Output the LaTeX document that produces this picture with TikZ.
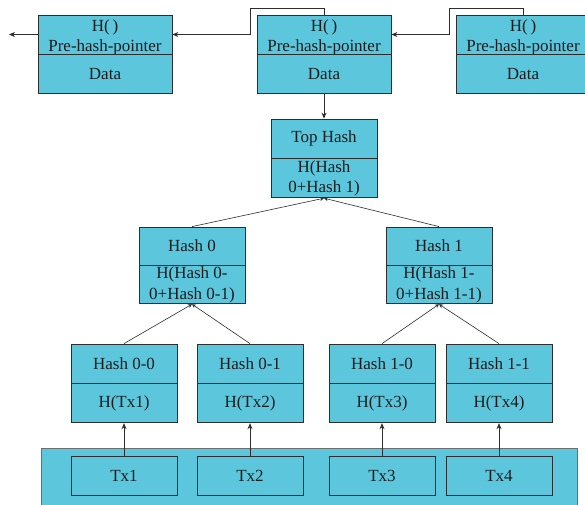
\documentclass[tikz,border=0pt]{standalone}
\usepackage{fontspec}
\setmainfont{Liberation Serif}
\usepackage{tikz}
\usetikzlibrary{positioning}
\usetikzlibrary{calc}
\usetikzlibrary{arrows.meta}
\definecolor{hashblue}{RGB}{91,198,220}
\definecolor{linegray}{RGB}{45,45,45}
\definecolor{poolgray}{RGB}{110,110,110}
\definecolor{txtgray}{RGB}{30,28,28}

\tikzset{
    cell/.style={draw=linegray,fill=hashblue,line width=0.8pt,minimum width=106pt,minimum height=39pt,
        inner sep=0pt,align=center,text=txtgray,font=\fontsize{17}{20.5}\selectfont},
    wide/.style={cell,minimum width=134pt},
    hdr/.style={wide,text height=36pt,text depth=2pt},
    pool/.style={draw=poolgray,fill=hashblue,line width=0.8pt,inner sep=0pt},
    ptr/.style={-{Stealth[length=6pt,width=5pt]},line width=0.7pt,draw=linegray},
    link/.style={-{Stealth[length=4pt,width=4pt]},line width=0.6pt,draw=linegray}
}

\begin{document}
\begin{tikzpicture}[x=1pt,y=-1pt]
\useasboundingbox (0,0) rectangle (585,504);

    % block chain
    \node[hdr] (b1h) at (105,34.5) {H(\,)\\Pre-hash-pointer};
    \node[wide,below=0pt of b1h] (b1d) {Data};
    \node[hdr] (b2h) at (324,34.5) {H(\,)\\Pre-hash-pointer};
    \node[wide,below=0pt of b2h] (b2d) {Data};
    \node[hdr] (b3h) at (523,34.5) {H(\,)\\Pre-hash-pointer};
    \node[wide,below=0pt of b3h] (b3d) {Data};
    \coordinate (prev) at (9,34.5);

    \draw[ptr] (b1h.west) -- (prev);
    \draw[ptr] (b2h.north) -- ++(0,-6) -| ($(b1h.east)+(78,0)$) -- (b1h.east);
    \draw[ptr] (b3h.north) -- ++(0,-6) -| ($(b2h.east)+(58,0)$) -- (b2h.east);

    % merkle tree
    \node[cell] (th) at (324,138.5) {Top Hash};
    \node[cell,below=0pt of th] (thh) {H(Hash\\0+Hash 1)};
    \draw[ptr] (b2d.south) -- (th.north);

    \node[cell,minimum height=38pt] (h0) at (192,246) {Hash 0};
    \node[cell,minimum height=38pt,below=0pt of h0] (h0h) {H(Hash 0-\\0+Hash 0-1)};
    \node[cell,minimum height=38pt] (h1) at (439,246) {Hash 1};
    \node[cell,minimum height=38pt,below=0pt of h1] (h1h) {H(Hash 1-\\0+Hash 1-1)};

    \node[cell] (h00) at (124,363.5) {Hash 0-0};
    \node[cell,below=0pt of h00] (h00h) {H(Tx1)};
    \node[cell] (h01) at (250,363.5) {Hash 0-1};
    \node[cell,below=0pt of h01] (h01h) {H(Tx2)};
    \node[cell] (h10) at (382,363.5) {Hash 1-0};
    \node[cell,below=0pt of h10] (h10h) {H(Tx3)};
    \node[cell] (h11) at (499,363.5) {Hash 1-1};
    \node[cell,below=0pt of h11] (h11h) {H(Tx4)};

    \draw[link] (h0.north) -- (thh.south);
    \draw[link] (h1.north) -- (thh.south);
    \draw[link] (h00.north) -- (h0h.south);
    \draw[link] (h01.north) -- (h0h.south);
    \draw[link] (h10.north) -- (h1h.south);
    \draw[link] (h11.north) -- (h1h.south);

    % transactions
    \node[pool,minimum width=536pt,minimum height=62pt] (txs) at (309,479) {};
    \node[cell] (tx1) at (124,475.5) {Tx1};
    \node[cell] (tx2) at (250,475.5) {Tx2};
    \node[cell] (tx3) at (382,475.5) {Tx3};
    \node[cell] (tx4) at (499,475.5) {Tx4};

    \draw[ptr] (tx1.north) -- (h00h.south);
    \draw[ptr] (tx2.north) -- (h01h.south);
    \draw[ptr] (tx3.north) -- (h10h.south);
    \draw[ptr] (tx4.north) -- (h11h.south);

\end{tikzpicture}
\end{document}
